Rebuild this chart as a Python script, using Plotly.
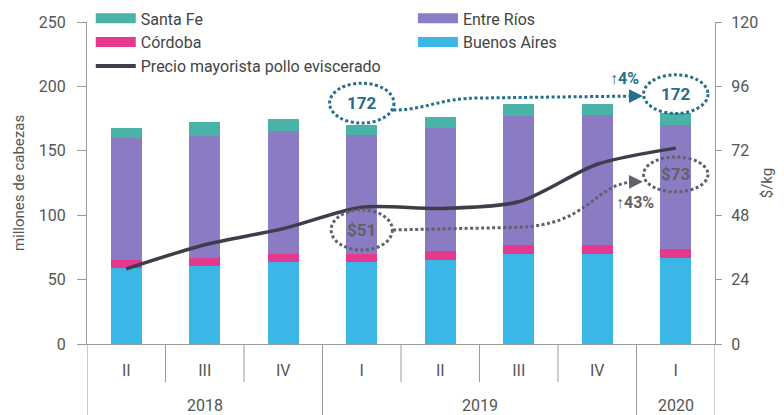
import plotly.graph_objects as go

years = ["2018", "2018", "2018", "2019", "2019", "2019", "2019", "2020"]
quarters = ["II", "III", "IV", "I", "II", "III", "IV", "I"]

buenos_aires = [59, 60.5, 64, 64, 65, 70, 70, 67]
cordoba = [6, 6, 6, 6, 7, 7, 7, 7]
entre_rios = [95, 95, 95.5, 92, 96, 100, 101, 96]
santa_fe = [8, 10.5, 9.5, 8, 8, 9, 8, 9]
precio = [28, 37, 43, 51, 50.5, 53, 67, 73]

colors = {
    "Santa Fe": "#48b3a6",
    "Entre Ríos": "#8b7bc2",
    "Córdoba": "#e6388c",
    "Buenos Aires": "#3ab7e6",
    "Precio mayorista pollo eviscerado": "#3d3e4a",
}
teal_note = "#256f8a"
gray_note = "#5f6268"
axis_gray = "#9a9a9a"
font_gray = "#555555"
dots = "3px,2.5px"

n = len(quarters)
xs = list(range(n))
fig = go.Figure()

# stack order: bottom to top
for name, vals in [("Buenos Aires", buenos_aires), ("Córdoba", cordoba),
                   ("Entre Ríos", entre_rios), ("Santa Fe", santa_fe)]:
    fig.add_trace(go.Bar(x=xs, y=vals, name=name, marker_color=colors[name],
                         marker_line_width=0, showlegend=False))

fig.add_trace(go.Scatter(x=xs, y=precio, yaxis="y2", mode="lines",
                         line=dict(color=colors["Precio mayorista pollo eviscerado"],
                                   width=3.5, shape="spline", smoothing=0.8),
                         showlegend=False))

# legend-only entries (wide swatches), two columns
for name, lg in [("Santa Fe", "legend"), ("Córdoba", "legend"),
                 ("Entre Ríos", "legend2"), ("Buenos Aires", "legend2")]:
    fig.add_trace(go.Scatter(x=[None], y=[None], mode="lines", name=name, legend=lg,
                             line=dict(color=colors[name], width=11)))
fig.add_trace(go.Scatter(x=[None], y=[None], mode="lines", legend="legend",
                         name="Precio mayorista pollo eviscerado",
                         line=dict(color=colors["Precio mayorista pollo eviscerado"], width=4)))

i_start, i_end = years.index("2019"), n - 1

# category dividers under the x axis
shapes = []
for b in range(n + 1):
    pos = b - 0.5
    is_year_edge = b == 0 or b == n or years[b] != years[b - 1]
    shapes.append(dict(type="line", xref="x", yref="paper", x0=pos, x1=pos,
                       y0=0, y1=-0.225 if is_year_edge else -0.118,
                       line=dict(color=axis_gray, width=1)))

shapes += [
    # dotted ellipses (172 cabezas)
    dict(type="circle", xref="x", yref="y", x0=i_start - 0.41, x1=i_start + 0.41,
         y0=171.5, y1=202.5, line=dict(color=teal_note, width=3, dash=dots)),
    dict(type="circle", xref="x", yref="y", x0=i_end - 0.41, x1=i_end + 0.41,
         y0=179, y1=209, line=dict(color=teal_note, width=3, dash=dots)),
    # dotted ellipses (precio)
    dict(type="circle", xref="x", yref="y2", x0=i_start - 0.39, x1=i_start + 0.39,
         y0=35, y1=50, line=dict(color=gray_note, width=3, dash=dots)),
    dict(type="circle", xref="x", yref="y2", x0=i_end - 0.41, x1=i_end + 0.41,
         y0=56.7, y1=69.7, line=dict(color=gray_note, width=3, dash=dots)),
    # connecting dotted curves
    dict(type="path", xref="x", yref="y",
         path="M 3.40,181.7 C 3.8,181.5 4.0,191 4.5,191 L 6.45,192.5",
         line=dict(color=teal_note, width=3, dash=dots)),
    dict(type="path", xref="x", yref="y2",
         path="M 3.40,42.5 L 5.0,43.5 C 5.9,44.4 5.95,59.3 6.45,60.4",
         line=dict(color=gray_note, width=3, dash=dots)),
]

annotations = []
for yr in dict.fromkeys(years):
    idx = [i for i, v in enumerate(years) if v == yr]
    annotations.append(dict(xref="x", yref="paper", x=sum(idx) / len(idx), y=-0.19,
                            text=yr, showarrow=False, yanchor="middle",
                            font=dict(size=16, color=font_gray)))

annotations += [
    dict(xref="x", yref="y", x=i_start, y=187, text="<b>172</b>", showarrow=False,
         font=dict(size=17, color=teal_note)),
    dict(xref="x", yref="y", x=i_end, y=194, text="<b>172</b>", showarrow=False,
         font=dict(size=17, color=teal_note)),
    dict(xref="x", yref="y", x=6.35, y=206, text="<b>↑4%</b>", showarrow=False,
         font=dict(size=16, color=teal_note)),
    dict(xref="x", yref="y2", x=i_start, y=42.5, text="<b>$51</b>", showarrow=False,
         font=dict(size=17, color=gray_note)),
    dict(xref="x", yref="y2", x=i_end, y=63.2, text="<b>$73</b>", showarrow=False,
         font=dict(size=17, color=gray_note)),
    dict(xref="x", yref="y2", x=6.48, y=52.9, text="<b>↑43%</b>", showarrow=False,
         font=dict(size=16, color=gray_note)),
    # arrow heads
    dict(xref="x", yref="y", x=6.58, y=192.5, axref="x", ayref="y", ax=6.42, ay=192.5,
         text="", showarrow=True, arrowhead=2, arrowsize=1.1, arrowwidth=2.5,
         arrowcolor=teal_note),
    dict(xref="x", yref="y2", x=6.58, y=60.5, axref="x", ayref="y2", ax=6.42, ay=60.4,
         text="", showarrow=True, arrowhead=2, arrowsize=1.1, arrowwidth=2.5,
         arrowcolor=gray_note),
]

legend_style = dict(orientation="v", xanchor="left", yanchor="top", traceorder="normal",
                    font=dict(size=16, color="#444444"), itemwidth=40,
                    bgcolor="rgba(0,0,0,0)", tracegroupgap=0)

fig.update_layout(
    width=784,
    height=415,
    margin=dict(l=87, r=69, t=22, b=71, pad=0, autoexpand=False),
    paper_bgcolor="white",
    plot_bgcolor="white",
    font=dict(family="Roboto", size=16, color=font_gray),
    barmode="stack",
    bargap=0.6,
    showlegend=True,
    legend=dict(x=0.006, y=1.064, **legend_style),
    legend2=dict(x=0.519, y=1.064, **legend_style),
    xaxis=dict(range=[-0.5, n - 0.5], tickmode="array", tickvals=xs, ticktext=quarters,
               showline=True, linecolor=axis_gray, linewidth=1, ticks="",
               ticklabelstandoff=12, showgrid=False, zeroline=False,
               tickfont=dict(size=16, color=font_gray)),
    yaxis=dict(range=[0, 250], dtick=50, showgrid=False, zeroline=False,
               showline=True, linecolor=axis_gray, ticks="outside", ticklen=9,
               tickcolor=axis_gray, ticklabelstandoff=8,
               title=dict(text="millones de cabezas", font=dict(size=15), standoff=10)),
    yaxis2=dict(range=[0, 120], dtick=24, overlaying="y", side="right",
                showgrid=False, zeroline=False, showline=True, linecolor=axis_gray,
                ticks="outside", ticklen=6, tickcolor=axis_gray, ticklabelstandoff=6,
                title=dict(text="$/kg", font=dict(size=15), standoff=4)),
    shapes=shapes,
    annotations=annotations,
)

fig.write_html("out.html", config={"displayModeBar": False},
               post_script="document.body.style.margin = '0';")
